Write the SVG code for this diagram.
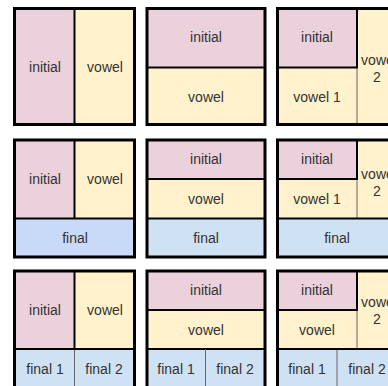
<svg xmlns="http://www.w3.org/2000/svg" width="388" height="386" viewBox="0 0 388 386">
<style>
.i{fill:#ead1dc}
.v{fill:#fff2cc}
.f{fill:#cfe2f3}
.f2{fill:#c9daf8}
.o{fill:none;stroke:#000;stroke-width:3}
.k{stroke:#000;stroke-width:2;fill:none}
.t{stroke:#666;stroke-width:1;fill:none}
text{font-family:"Liberation Sans",Arial,sans-serif;font-size:14px;fill:#333;text-anchor:middle;dominant-baseline:central}
</style>
<rect width="388" height="386" fill="#fff"/>
<g id="panel-a1">
<rect class="i" x="14.5" y="8.5" width="60" height="116"/>
<rect class="v" x="74.5" y="8.5" width="60" height="116"/>
<line class="k" x1="74.5" y1="8.5" x2="74.5" y2="124.5"/>
<rect class="o" x="14.5" y="8.5" width="120" height="116"/>
<text x="45" y="67">initial</text>
<text x="105" y="67">vowel</text>
</g>
<g id="panel-b1">
<rect class="i" x="147" y="8.5" width="118" height="59"/>
<rect class="v" x="147" y="67.5" width="118" height="57"/>
<line class="k" x1="147" y1="67.5" x2="265" y2="67.5"/>
<rect class="o" x="147" y="8.5" width="118" height="116"/>
<text x="206" y="37">initial</text>
<text x="206" y="97">vowel</text>
</g>
<g id="panel-c1">
<rect class="v" x="277.5" y="8.5" width="120" height="116"/>
<rect class="i" x="277.5" y="8.5" width="79.5" height="59"/>
<line class="t" x1="357" y1="67.5" x2="357" y2="124.5"/>
<rect class="k" x="277.5" y="8.5" width="79.5" height="59"/>
<rect class="o" x="277.5" y="8.5" width="120" height="116"/>
<text x="317" y="37">initial</text>
<text x="317" y="97">vowel 1</text>
<text x="379" y="60">vowel</text>
<text x="377" y="77">2</text>
</g>
<g id="panel-a2">
<rect class="i" x="14.5" y="140" width="60" height="78.5"/>
<rect class="v" x="74.5" y="140" width="60" height="78.5"/>
<rect class="f2" x="14.5" y="218.5" width="120" height="38.5"/>
<line class="k" x1="74.5" y1="140" x2="74.5" y2="218.5"/>
<line class="k" x1="14.5" y1="218.5" x2="134.5" y2="218.5"/>
<rect class="o" x="14.5" y="140" width="120" height="117"/>
<text x="45" y="179">initial</text>
<text x="105" y="179">vowel</text>
<text x="75" y="238">final</text>
</g>
<g id="panel-b2">
<rect class="i" x="147" y="140" width="118" height="39"/>
<rect class="v" x="147" y="179" width="118" height="39.5"/>
<rect class="f" x="147" y="218.5" width="118" height="38.5"/>
<line class="k" x1="147" y1="179" x2="265" y2="179"/>
<line class="k" x1="147" y1="218.5" x2="265" y2="218.5"/>
<rect class="o" x="147" y="140" width="118" height="117"/>
<text x="206" y="159">initial</text>
<text x="206" y="199">vowel</text>
<text x="206" y="238">final</text>
</g>
<g id="panel-c2">
<rect class="v" x="277.5" y="140" width="120" height="78.5"/>
<rect class="i" x="277.5" y="140" width="79.5" height="39"/>
<rect class="f" x="277.5" y="218.5" width="120" height="38.5"/>
<line class="t" x1="357" y1="179" x2="357" y2="218.5"/>
<rect class="k" x="277.5" y="140" width="79.5" height="39"/>
<line class="k" x1="277.5" y1="218.5" x2="397.5" y2="218.5"/>
<rect class="o" x="277.5" y="140" width="120" height="117"/>
<text x="317" y="159">initial</text>
<text x="317" y="199">vowel 1</text>
<text x="379" y="174">vowel</text>
<text x="377" y="191">2</text>
<text x="337" y="238">final</text>
</g>
<g id="panel-a3">
<rect class="i" x="14.5" y="271" width="60" height="78"/>
<rect class="v" x="74.5" y="271" width="60" height="78"/>
<rect class="f" x="14.5" y="349" width="120" height="39"/>
<line class="k" x1="74.5" y1="271" x2="74.5" y2="349"/>
<line class="t" x1="74.5" y1="349" x2="74.5" y2="388"/>
<line class="k" x1="14.5" y1="349" x2="134.5" y2="349"/>
<rect class="o" x="14.5" y="271" width="120" height="117"/>
<text x="45" y="310">initial</text>
<text x="105" y="310">vowel</text>
<text x="45" y="369">final 1</text>
<text x="104" y="369">final 2</text>
</g>
<g id="panel-b3">
<rect class="i" x="147" y="271" width="118" height="39"/>
<rect class="v" x="147" y="310" width="118" height="39"/>
<rect class="f" x="147" y="349" width="118" height="39"/>
<line class="k" x1="147" y1="310" x2="265" y2="310"/>
<line class="k" x1="147" y1="349" x2="265" y2="349"/>
<line class="t" x1="205.5" y1="349" x2="205.5" y2="388"/>
<rect class="o" x="147" y="271" width="118" height="117"/>
<text x="206" y="290">initial</text>
<text x="206" y="330">vowel</text>
<text x="176" y="369">final 1</text>
<text x="235" y="369">final 2</text>
</g>
<g id="panel-c3">
<rect class="v" x="277.5" y="271" width="120" height="78"/>
<rect class="i" x="277.5" y="271" width="79.5" height="39"/>
<rect class="f" x="277.5" y="349" width="120" height="39"/>
<line class="t" x1="357" y1="310" x2="357" y2="349"/>
<line class="t" x1="337" y1="349" x2="337" y2="388"/>
<rect class="k" x="277.5" y="271" width="79.5" height="39"/>
<line class="k" x1="277.5" y1="349" x2="397.5" y2="349"/>
<rect class="o" x="277.5" y="271" width="120" height="117"/>
<text x="317" y="290">initial</text>
<text x="317" y="330">vowel</text>
<text x="379" y="302">vowel</text>
<text x="377" y="319">2</text>
<text x="307" y="369">final 1</text>
<text x="367" y="369">final 2</text>
</g>
</svg>
